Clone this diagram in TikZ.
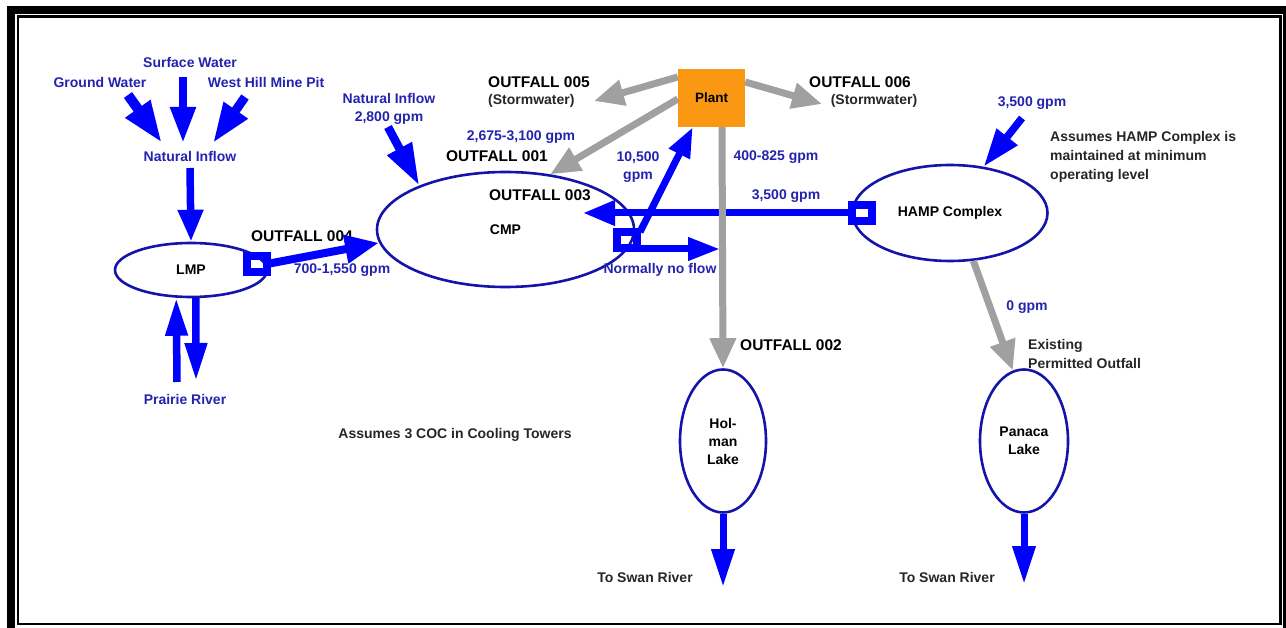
\documentclass[tikz,border=0pt]{standalone}
\usepackage{fontspec}
\setmainfont{Liberation Sans}
\usetikzlibrary{arrows.meta,shapes.geometric}
\definecolor{arrblue}{RGB}{0,0,255}
\definecolor{txtblue}{RGB}{35,35,175}
\definecolor{lakeblue}{RGB}{20,20,170}
\definecolor{flowgray}{RGB}{160,160,160}
\definecolor{plantorange}{RGB}{250,152,20}
\begin{document}
\begin{tikzpicture}[x=1pt,y=-1pt,
 lbl/.style={font=\fontsize{14}{18}\selectfont\bfseries, text=txtblue, inner sep=0pt, align=center},
 capt/.style={font=\fontsize{15.5}{19}\selectfont\bfseries, text=black, inner sep=0pt, align=center},
 note/.style={font=\fontsize{14}{19}\selectfont\bfseries, text=black!85, inner sep=0pt, align=left},
 lake/.style={ellipse, draw=lakeblue, line width=2.6pt, inner sep=0pt, align=center, font=\fontsize{14}{18}\selectfont\bfseries},
 gate/.style={draw=arrblue, line width=8pt, minimum width=20pt, minimum height=16pt, inner sep=0pt, outer sep=0pt},
 bflow/.style={draw=arrblue, line width=7.5pt, -{Triangle[length=32pt,width=24pt]}},
 gflow/.style={draw=flowgray, line width=7pt, -{Triangle[length=30pt,width=25pt]}},
]
\useasboundingbox (0,0) rectangle (1286,628);
% frame
\fill[black] (7,6) rectangle (1286,14);
\fill[black] (7,6) rectangle (15,628);
\fill[black] (1283,6) rectangle (1286,628);
\draw[line width=2.5pt] (18,16.5) rectangle (1280.5,624);

% lakes and plant
\node[lake, minimum width=152pt, minimum height=54pt] (lmp) at (191,270) {LMP};
\node[lake, minimum width=257pt, minimum height=115pt] (cmp) at (505.5,229.5) {CMP};
\node[lake, minimum width=195pt, minimum height=96pt] (hamp) at (950,213) {HAMP Complex};
\node[lake, minimum width=86pt, minimum height=143pt] (hol) at (723,441) {Hol-\\man\\Lake};
\node[lake, minimum width=88pt, minimum height=143pt] (pan) at (1024,441) {Panaca\\Lake};
\node[fill=plantorange, minimum width=67pt, minimum height=58pt, inner sep=0pt, font=\fontsize{13.5}{16}\selectfont\bfseries] (plant) at (711.5,98) {Plant};

% text labels
\node[lbl] (sw) at (190,62) {Surface Water};
\node[lbl] (gw) at (100,82) {Ground Water};
\node[lbl] (wh) at (266,82) {West Hill Mine Pit};
\node[lbl] (ni) at (190,156) {Natural Inflow};
\node[lbl] (pr) at (185,399) {Prairie River};
\node[capt] (o4) at (302,236) {OUTFALL 004};
\node[lbl] (f4) at (342,270) {700-1,550 gpm};
\node[lbl] (ni2) at (389,109) {Natural Inflow\\2,800 gpm};
\node[capt] (o1) at (497,156) {OUTFALL 001};
\node[lbl] (f1) at (521,137) {2,675-3,100 gpm};
\node[capt, anchor=west] (o5) at (488,82) {OUTFALL 005};
\node[note, anchor=west] (s5) at (488,101) {(Stormwater)};
\node[capt] (o3) at (540,195) {OUTFALL 003};
\node[lbl] (f10) at (638,167) {10,500\\gpm};
\node[lbl] (f400) at (776,157) {400-825 gpm};
\node[lbl] (f35) at (786,196) {3,500 gpm};
\node[lbl] (nnf) at (660,270) {Normally no flow};
\node[capt] (o6) at (860,82) {OUTFALL 006};
\node[note] (s6) at (874,101) {(Stormwater)};
\node[lbl] (fh) at (1032,103) {3,500 gpm};
\node[note, anchor=west] (as) at (1050,157) {Assumes HAMP Complex is\\maintained at minimum\\operating level};
\node[lbl] (f0) at (1027,307) {0 gpm};
\node[note, anchor=west] (ex) at (1028,354) {Existing\\Permitted Outfall};
\node[capt, anchor=west] (o2) at (740,345) {OUTFALL 002};
\node[note] (coc) at (455,435) {Assumes 3 COC in Cooling Towers};
\node[note] (ts1) at (645,577) {To Swan River};
\node[note] (ts2) at (947,577) {To Swan River};

% gates
\node[gate] (g4) at (257,264) {};
\node[gate] (g3) at (627,240) {};
\node[gate] (gh) at (862,213) {};

% free ends
\coordinate (gwS) at (128,95);  \coordinate (gwT) at (162,143);
\coordinate (swS) at (183,77);  \coordinate (swT) at (183,143);
\coordinate (whS) at (245,97);  \coordinate (whT) at (213,143);
\coordinate (niS) at (190,168);
\coordinate (prU) at (177,382); \coordinate (prD) at (196,381);
\coordinate (ni2S) at (388,127);
\coordinate (fhS) at (1022,118);
\coordinate (c3T) at (583,213);
\coordinate (g3R) at (638,249); \coordinate (nfT) at (720,249);
\coordinate (g3U) at (640,232);
\coordinate (t5) at (594,101);
\coordinate (t6) at (822,104);
\coordinate (sr1) at (723,587);
\coordinate (sr2) at (1024,584);

% blue flows
\draw[bflow, line width=10pt, -{Triangle[length=42pt,width=28pt]}] (gwS) -- (gwT);
\draw[bflow, line width=8pt, -{Triangle[length=36pt,width=24pt]}] (swS) -- (swT);
\draw[bflow, line width=9pt, -{Triangle[length=40pt,width=27pt]}] (whS) -- (whT);
\draw[bflow] (niS) -- (lmp.north);
\draw[bflow, -{Triangle[length=38pt,width=21pt]}] (prU) -- (lmp.242);
\draw[bflow, -{Triangle[length=38pt,width=21pt]}] (lmp.280) -- (prD);
\draw[bflow, line width=8pt, -{Triangle[length=34pt,width=27pt]}] (g4.east) -- (cmp.186);
\draw[bflow, line width=8.5pt, -{Triangle[length=42pt,width=26pt]}] (ni2S) -- (cmp.153);
\draw[bflow, -{Triangle[length=38pt,width=25pt]}] (fhS) -- (hamp.54);
\draw[bflow, line width=7pt, -{Triangle[length=32pt,width=24pt]}] (gh.west) -- (c3T);
\draw[bflow, line width=7pt, -{Triangle[length=32pt,width=22pt]}] (g3R) -- (nfT);
\draw[bflow, line width=7pt, -{Triangle[length=30pt,width=22pt]}] (g3U) -- ([xshift=15pt]plant.south west);
\draw[bflow, line width=7pt, -{Triangle[length=38pt,width=22pt]}] (hol.south) -- (sr1);
\draw[bflow, line width=7pt, -{Triangle[length=38pt,width=22pt]}] (pan.south) -- (sr2);

% gray flows
\draw[gflow] ([yshift=21pt]plant.west) -- (t5);
\draw[gflow] ([yshift=-1pt]plant.west) -- (cmp.51);
\draw[gflow] ([yshift=16pt]plant.east) -- (t6);
\draw[gflow] ([xshift=10.5pt]plant.south) -- (hol.north);
\draw[gflow] (hamp.296) -- (pan.99);
\end{tikzpicture}
\end{document}
